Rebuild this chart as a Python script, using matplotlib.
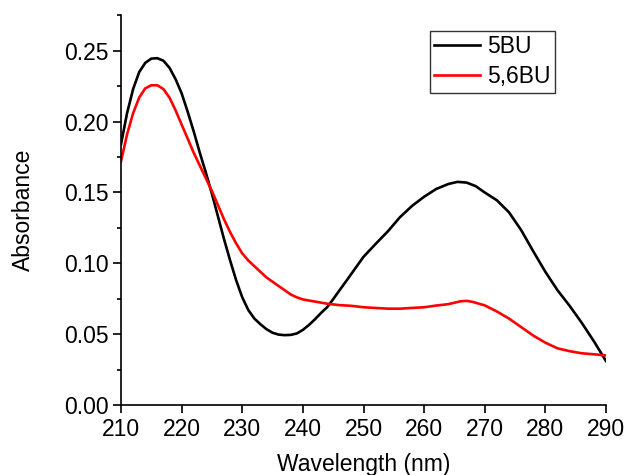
import matplotlib
matplotlib.use("Agg")
import matplotlib.pyplot as plt
from matplotlib.ticker import MultipleLocator

plt.rcParams['font.family'] = ['Liberation Sans', 'DejaVu Sans']

# 5BU (black)
wl_5bu = [210, 211, 212, 213, 214, 215, 216, 217, 218, 219, 220, 221, 222, 223, 224,
          225, 226, 227, 228, 229, 230, 231, 232, 233, 234, 235, 236, 237, 238, 239,
          240, 241, 242, 243, 244, 245, 246, 247, 248, 249, 250, 252, 254, 256, 258,
          260, 262, 264, 265.5, 267, 268.5, 270, 272, 274, 276, 278, 280, 282, 284,
          286, 288, 290]
abs_5bu = [0.184, 0.206, 0.223, 0.235, 0.2415, 0.2445, 0.2448, 0.243, 0.238, 0.230,
           0.220, 0.207, 0.193, 0.178, 0.164, 0.149, 0.133, 0.117, 0.102, 0.088,
           0.076, 0.067, 0.061, 0.057, 0.0535, 0.051, 0.0497, 0.0493, 0.0495, 0.0505,
           0.053, 0.0565, 0.0605, 0.065, 0.069, 0.0747, 0.0807, 0.0866, 0.0926, 0.0986,
           0.1046, 0.1137, 0.1225, 0.1325, 0.1405, 0.147, 0.1525, 0.156, 0.1575, 0.157,
           0.1545, 0.150, 0.1445, 0.136, 0.1235, 0.1085, 0.094, 0.081, 0.070, 0.058,
           0.045, 0.031]

# 5,6BU (red)
wl_56bu = [210, 211, 212, 213, 214, 215, 216, 217, 218, 219, 220, 221, 222, 223, 224,
           225, 226, 227, 228, 229, 230, 231, 232, 233, 234, 235, 236, 237, 238, 239,
           240, 242, 244, 246, 248, 250, 252, 254, 256, 258, 260, 262, 264, 266, 267,
           268, 270, 272, 274, 276, 278, 280, 282, 284, 286, 288, 290]
abs_56bu = [0.172, 0.191, 0.206, 0.217, 0.2235, 0.2257, 0.2257, 0.223, 0.217, 0.208,
            0.198, 0.188, 0.178, 0.169, 0.160, 0.151, 0.141, 0.131, 0.122, 0.114,
            0.107, 0.102, 0.098, 0.094, 0.090, 0.087, 0.084, 0.081, 0.078, 0.076,
            0.0745, 0.073, 0.0715, 0.0705, 0.070, 0.069, 0.0685, 0.068, 0.068, 0.0685,
            0.069, 0.0702, 0.0712, 0.0732, 0.0735, 0.0728, 0.0703, 0.066, 0.061, 0.055,
            0.049, 0.044, 0.040, 0.038, 0.0365, 0.0358, 0.035]

series_labels = ["5BU", "5,6BU"]
x_ticks = [210, 220, 230, 240, 250, 260, 270, 280, 290]
y_ticks = [0.00, 0.05, 0.10, 0.15, 0.20, 0.25]

fig = plt.figure(figsize=(6.26, 4.75), dpi=100)
ax = fig.add_axes([121/626, 1 - 405/475, 485/626, (405 - 14.7)/475])

ax.plot(wl_5bu, abs_5bu, color='black', lw=1.9, label=series_labels[0])
ax.plot(wl_56bu, abs_56bu, color='#ff0000', lw=1.9, label=series_labels[1])

ax.set_xlim(210, 290)
ax.set_ylim(0, 0.2755)
ax.set_xticks(x_ticks)
ax.set_xticklabels([str(t) for t in x_ticks])
ax.set_yticks(y_ticks)
ax.set_yticklabels([f"{t:.2f}" for t in y_ticks])
ax.yaxis.set_minor_locator(MultipleLocator(0.025))

for s in ['top', 'right']:
    ax.spines[s].set_visible(False)
for s in ['left', 'bottom']:
    ax.spines[s].set_linewidth(1.2)

ax.tick_params(axis='both', which='major', direction='out', length=5.5, width=1.2,
               labelsize=16.5, pad=3.5)
ax.tick_params(axis='y', which='minor', direction='out', length=3, width=1.2)
ax.tick_params(axis='x', which='minor', bottom=False)

ax.set_xlabel("Wavelength (nm)", fontsize=16.5, labelpad=9)
ax.set_ylabel("Absorbance", fontsize=16.5, labelpad=21)

leg = ax.legend(loc='upper right', bbox_to_anchor=(0.895, 0.959), borderaxespad=0,
                fontsize=16.5, frameon=True, fancybox=False, handlelength=2.0,
                handletextpad=0.3, labelspacing=0.3, borderpad=0.2)
leg.get_frame().set_edgecolor('black')
leg.get_frame().set_linewidth(1.0)

fig.savefig("out.png", dpi=100)
